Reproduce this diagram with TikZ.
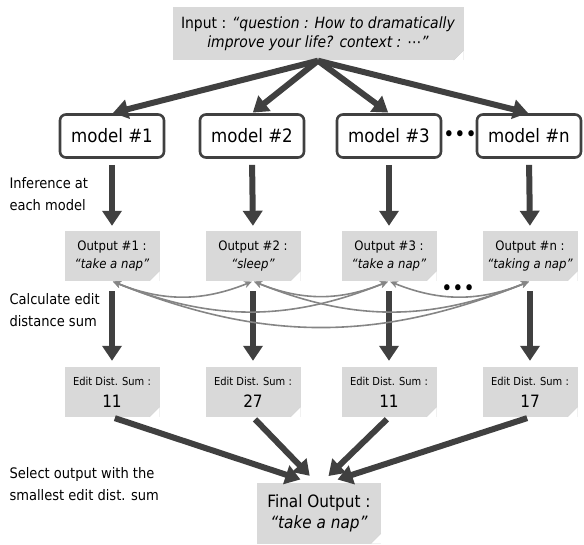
\documentclass[tikz,border=0pt]{standalone}
\usepackage{fontspec}
\setmainfont{DejaVu Sans Condensed}
\usepackage{tikz}
\usetikzlibrary{calc,positioning,arrows.meta}

\definecolor{boxgray}{HTML}{D9D9D9}
\definecolor{foldgray}{HTML}{A6A6A6}
\definecolor{darkline}{HTML}{404040}
\definecolor{curvegray}{HTML}{858585}

\tikzset{
  note/.style={rectangle, fill=boxgray, align=center, inner sep=2pt,
    path picture={
      \fill[white] ([xshift=-10pt]path picture bounding box.south east)
        -- (path picture bounding box.south east)
        -- ([yshift=10pt]path picture bounding box.south east) -- cycle;
      \fill[foldgray] ([xshift=-10pt]path picture bounding box.south east)
        -- ([yshift=10pt]path picture bounding box.south east)
        -- ([xshift=-7pt,yshift=3pt]path picture bounding box.south east) -- cycle;
    }},
  modelbox/.style={rectangle, draw=darkline, line width=2.6pt, rounded corners=6pt,
    minimum width=104pt, minimum height=43pt, font=\fontsize{18.5}{20}\selectfont},
  outbox/.style={note, minimum width=95pt, minimum height=50pt, font=\fontsize{13}{18}\selectfont},
  sumbox/.style={note, minimum width=95pt, minimum height=50pt, font=\fontsize{17}{22}\selectfont},
  sidetext/.style={anchor=west, align=left, font=\fontsize{14.5}{22}\selectfont},
  dotrow/.style={inner sep=0pt, font=\fontsize{21}{21}\selectfont},
  fat/.style={line width=6pt, draw=darkline, -{Triangle[width=19pt,length=15pt]}},
  pair/.style={line width=1.6pt, draw=curvegray, {Stealth[length=8pt,width=7pt]}-{Stealth[length=8pt,width=7pt]}}
}

\begin{document}
\begin{tikzpicture}[x=1pt,y=-1pt]

    \useasboundingbox (0,0) rectangle (584,545);

    % input and models
    \draw (318,34) node[note, minimum width=291pt, minimum height=53pt, font=\fontsize{15.5}{19}\selectfont] (in)
      {Input : \textit{“question : How to dramatically}\\\textit{improve your life? context : ⋯”}};
    \draw (112,136) node[modelbox] (m1) {model \#1};
    \draw (252,136) node[modelbox] (m2) {model \#2};
    \draw (389,136) node[modelbox] (m3) {model \#3};
    \draw (529,136) node[modelbox] (mn) {model \#n};
    \draw (460,136) node[dotrow] (dotsA) {•••};

    % outputs
    \draw (112,256) node[outbox] (o1) {Output \#1 :\\\textit{“take a nap”}};
    \draw (253,256) node[outbox] (o2) {Output \#2 :\\\textit{“sleep”}};
    \draw (389,256) node[outbox] (o3) {Output \#3 :\\\textit{“take a nap”}};
    \draw (530,256) node[outbox] (on) {Output \#n :\\\textit{“taking a nap”}};
    \draw (458,290) node[dotrow] (dotsB) {•••};

    % edit distance sums
    \draw (112,392) node[sumbox] (e1) {{\fontsize{11}{13}\selectfont Edit Dist. Sum :}\\11};
    \draw (253,392) node[sumbox] (e2) {{\fontsize{11}{13}\selectfont Edit Dist. Sum :}\\27};
    \draw (389,392) node[sumbox] (e3) {{\fontsize{11}{13}\selectfont Edit Dist. Sum :}\\11};
    \draw (530,392) node[sumbox] (en) {{\fontsize{11}{13}\selectfont Edit Dist. Sum :}\\17};

    \draw (319,513) node[note, minimum width=124pt, minimum height=61pt, font=\fontsize{17}{21}\selectfont] (fin)
      {Final Output :\\\textit{“take a nap”}};

    % step labels
    \draw (6,194) node[sidetext] (l1) {Inference at\\each model};
    \draw (6,310) node[sidetext] (l2) {Calculate edit\\distance sum};
    \draw (6,484) node[sidetext] (l3) {Select output with the\\smallest edit dist. sum};

    % lines
    \draw[fat, shorten >=1pt] (in.south) -- (m1.north);
    \draw[fat, shorten >=1pt] (in.south) -- (m2.north);
    \draw[fat, shorten >=1pt] (in.south) -- (m3.north);
    \draw[fat, shorten >=1pt] (in.south) -- (mn.north);
    \foreach \m/\o in {m1/o1,m2/o2,m3/o3,mn/on}
      \draw[fat, shorten <=6pt, shorten >=5pt] (\m.south) -- (\o.north);
    \foreach \o/\e in {o1/e1,o2/e2,o3/e3,on/en}
      \draw[fat, shorten <=10pt, shorten >=6pt] (\o.south) -- (\e.north);
    \draw[fat, shorten <=3pt, shorten >=9pt] (e1.south) -- ([xshift=-10pt]fin.north);
    \draw[fat, shorten <=3pt, shorten >=9pt] (e2.south) -- ([xshift=-3pt]fin.north);
    \draw[fat, shorten <=3pt, shorten >=9pt] (e3.south) -- ([xshift=3pt]fin.north);
    \draw[fat, shorten <=3pt, shorten >=9pt] (en.south) -- ([xshift=10pt]fin.north);

    % pairwise distances
    \foreach \a/\b in {o1/o2,o1/o3,o1/on,o2/o3,o2/on,o3/on}
      \draw[pair, shorten <=1pt, shorten >=1pt] (\a.south) to[out=-22,in=-158] (\b.south);

\end{tikzpicture}
\end{document}
